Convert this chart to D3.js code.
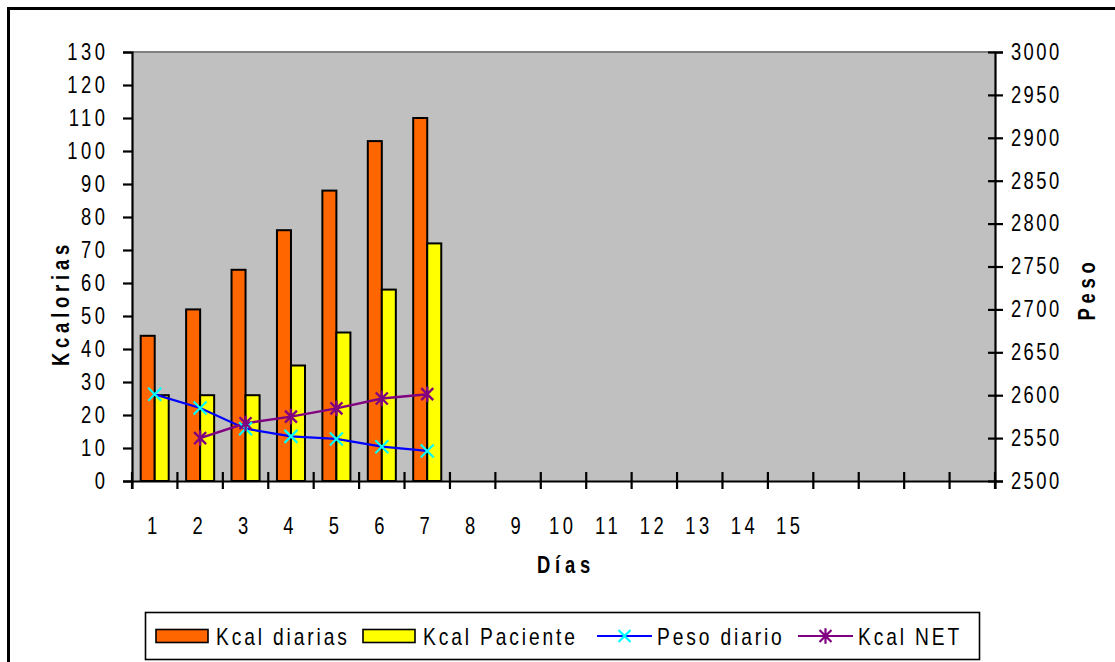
<!DOCTYPE html>
<html>
<head>
<meta charset="utf-8">
<script src="https://d3js.org/d3.v7.min.js"></script>
<style>
  body { margin: 0; background: #fff; }
  text { font-family: "Liberation Sans", Arial, sans-serif; fill: #000; }
</style>
</head>
<body>
<script>
// data
var dias = [1, 2, 3, 4, 5, 6, 7, 8, 9, 10, 11, 12, 13, 14, 15, 16, 17, 18, 19];
var diaLabels = ["1", "2", "3", "4", "5", "6", "7", "8", "9", "10", "11", "12", "13", "14", "15", "", "", "", ""];
var kcalDiarias = [44, 52, 64, 76, 88, 103, 110];
var kcalPaciente = [26, 26, 26, 35, 45, 58, 72];
var pesoDiario = [2601, 2585, 2561, 2552, 2549, 2540, 2535];
var kcalNet = [null, 13, 17.5, 19.5, 22, 25, 26.3];
var leftTicks = [0, 10, 20, 30, 40, 50, 60, 70, 80, 90, 100, 110, 120, 130];
var rightTicks = [2500, 2550, 2600, 2650, 2700, 2750, 2800, 2850, 2900, 2950, 3000];

var W = 1115, H = 662;
var plot = {left: 132, right: 995, top: 52, bottom: 481};

// no narrow font installed, so squeeze text horizontally
var SX = 0.8;
function narrow(sel) {
  sel.each(function() {
    var t = d3.select(this);
    var xx = +t.attr("x") || 0;
    t.attr("x", xx / SX);
    var tr = t.attr("transform") || "";
    t.attr("transform", tr + " scale(" + SX + ",1)");
  });
}

var svg = d3.select("body").append("svg")
    .attr("width", W)
    .attr("height", H);

// outer chart frame (right and bottom edges run off the picture)
svg.append("rect")
    .attr("x", 8.5).attr("y", 8.5)
    .attr("width", W + 20).attr("height", H + 20)
    .attr("fill", "#fff")
    .attr("stroke", "#000")
    .attr("stroke-width", 3);

// scales
var x = d3.scaleBand().domain(dias).range([plot.left, plot.right]).padding(0);
var xSub = d3.scaleBand().domain(["diarias", "paciente"])
    .range([0, x.bandwidth()]).paddingInner(0).paddingOuter(0.62);
var y = d3.scaleLinear().domain([0, 130]).range([plot.bottom, plot.top]);
var y2 = d3.scaleLinear().domain([2500, 3000]).range([plot.bottom, plot.top]);

// plot area
svg.append("rect")
    .attr("x", plot.left).attr("y", plot.top)
    .attr("width", plot.right - plot.left).attr("height", plot.bottom - plot.top)
    .attr("fill", "#c0c0c0");
svg.append("line")
    .attr("x1", plot.left).attr("x2", plot.right)
    .attr("y1", plot.top).attr("y2", plot.top)
    .attr("stroke", "#808080").attr("stroke-width", 2);

// bars
var barData = [];
kcalDiarias.forEach(function(v, i) { barData.push({dia: dias[i], serie: "diarias", v: v}); });
kcalPaciente.forEach(function(v, i) { barData.push({dia: dias[i], serie: "paciente", v: v}); });

svg.append("g").selectAll("rect")
    .data(barData)
    .enter().append("rect")
      .attr("x", function(d) { return x(d.dia) + xSub(d.serie); })
      .attr("y", function(d) { return y(d.v); })
      .attr("width", xSub.bandwidth())
      .attr("height", function(d) { return y(0) - y(d.v); })
      .attr("fill", function(d) { return d.serie == "diarias" ? "#ff6600" : "#ffff00"; })
      .attr("stroke", "#000")
      .attr("stroke-width", 2);

// axes
var fontSize = 23, ls = 4.4;

var leftAxis = svg.append("g")
    .attr("transform", "translate(" + plot.left + ",0)")
    .call(d3.axisLeft(y).tickValues(leftTicks).tickSize(9).tickPadding(18));
var rightAxis = svg.append("g")
    .attr("transform", "translate(" + plot.right + ",0)")
    .call(d3.axisRight(y2).tickValues(rightTicks).tickFormat(d3.format("d")).tickSize(8).tickPadding(8));
var bottomAxis = svg.append("g")
    .attr("transform", "translate(0," + plot.bottom + ")")
    .call(d3.axisBottom(x).tickFormat(function(d, i) { return diaLabels[i]; }).tickSize(8).tickPadding(29));

[leftAxis, rightAxis, bottomAxis].forEach(function(g) {
  g.select(".domain").attr("stroke", "#000").attr("stroke-width", 2.2);
  g.selectAll(".tick line").attr("stroke", "#000").attr("stroke-width", 2.2);
  g.selectAll(".tick text")
      .attr("font-size", fontSize)
      .attr("letter-spacing", ls + "px")
      .attr("font-family", null);
});
leftAxis.selectAll(".tick text").attr("dx", ls);
rightAxis.selectAll(".tick line").attr("x1", -7);
rightAxis.selectAll(".tick text").attr("x", 16).attr("letter-spacing", "3px");
bottomAxis.selectAll(".tick text").attr("dx", -1);
[leftAxis, rightAxis, bottomAxis].forEach(function(g) { narrow(g.selectAll(".tick text")); });

// category ticks sit on the boundaries between days and cross the axis
bottomAxis.selectAll(".tick line").remove();
svg.append("g").selectAll("line")
    .data(dias.concat(["end"]))
    .enter().append("line")
      .attr("x1", function(d) { return d == "end" ? plot.right : x(d); })
      .attr("x2", function(d) { return d == "end" ? plot.right : x(d); })
      .attr("y1", plot.bottom - 9).attr("y2", plot.bottom + 8)
      .attr("stroke", "#000").attr("stroke-width", 2.2);

// lines
var cx = function(d, i) { return x(dias[i]) + x.bandwidth() / 2; };

var pesoLine = d3.line()
    .x(cx)
    .y(function(d) { return y2(d); });
svg.append("path")
    .datum(pesoDiario)
    .attr("d", pesoLine)
    .attr("fill", "none")
    .attr("stroke", "#0000ff")
    .attr("stroke-width", 2.2);

var netLine = d3.line()
    .defined(function(d) { return d != null; })
    .x(cx)
    .y(function(d) { return y(d); });
svg.append("path")
    .datum(kcalNet)
    .attr("d", netLine)
    .attr("fill", "none")
    .attr("stroke", "#800080")
    .attr("stroke-width", 2.4);

function crossPath(s) {
  return "M" + (-s) + "," + (-s) + "L" + s + "," + s + "M" + (-s) + "," + s + "L" + s + "," + (-s);
}
function starPath(s) {
  return crossPath(s) + "M0," + (-s * 1.3) + "L0," + (s * 1.3);
}

svg.append("g").selectAll("path")
    .data(pesoDiario)
    .enter().append("path")
      .attr("transform", function(d, i) { return "translate(" + cx(d, i) + "," + y2(d) + ")"; })
      .attr("d", crossPath(6.5))
      .attr("stroke", "#00ffff")
      .attr("stroke-width", 2.2);

svg.append("g").selectAll("path")
    .data(kcalNet.map(function(v, i) { return {v: v, i: i}; }).filter(function(d) { return d.v != null; }))
    .enter().append("path")
      .attr("transform", function(d) { return "translate(" + cx(d, d.i) + "," + y(d.v) + ")"; })
      .attr("d", starPath(6))
      .attr("stroke", "#800080")
      .attr("stroke-width", 2.4);

// axis titles
var titles = svg.append("g")
    .attr("font-size", 23)
    .attr("font-weight", "bold")
    .attr("letter-spacing", "6px")
    .attr("text-anchor", "middle");

titles.append("text")
    .attr("transform", "translate(69,303) rotate(-90)")
    .text("Kcalorias");
titles.append("text")
    .attr("transform", "translate(566,573)")
    .text("Días");
titles.append("text")
    .attr("transform", "translate(1095,289) rotate(-90)")
    .text("Peso");
narrow(titles.selectAll("text"));

// legend
var legendItems = [
  {name: "Kcal diarias", type: "bar", fill: "#ff6600"},
  {name: "Kcal Paciente", type: "bar", fill: "#ffff00"},
  {name: "Peso diario", type: "line", stroke: "#0000ff", marker: "#00ffff", shape: "cross"},
  {name: "Kcal NET", type: "line", stroke: "#800080", marker: "#800080", shape: "star"}
];
var legendX = [156, 363, 597, 798];

var legend = svg.append("g");
legend.append("rect")
    .attr("x", 145.5).attr("y", 612.5)
    .attr("width", 834).attr("height", 47)
    .attr("fill", "#fff")
    .attr("stroke", "#000")
    .attr("stroke-width", 1.6);

var li = legend.selectAll("g.item")
    .data(legendItems)
    .enter().append("g")
      .attr("class", "item")
      .attr("transform", function(d, i) { return "translate(" + legendX[i] + ",636)"; });

li.filter(function(d) { return d.type == "bar"; })
  .append("rect")
    .attr("x", 0).attr("y", -6.5)
    .attr("width", 52).attr("height", 13)
    .attr("fill", function(d) { return d.fill; })
    .attr("stroke", "#000")
    .attr("stroke-width", 1.6);

var lineItems = li.filter(function(d) { return d.type == "line"; });
lineItems.append("line")
    .attr("x1", 0).attr("x2", 55)
    .attr("y1", 0).attr("y2", 0)
    .attr("stroke", function(d) { return d.stroke; })
    .attr("stroke-width", 2.2);
lineItems.append("path")
    .attr("transform", "translate(27.5,0)")
    .attr("d", function(d) { return d.shape == "cross" ? crossPath(6) : starPath(6); })
    .attr("stroke", function(d) { return d.marker; })
    .attr("stroke-width", 2.2);

li.append("text")
    .attr("x", 60)
    .attr("y", 9)
    .attr("font-size", 24)
    .attr("letter-spacing", "3.6px")
    .text(function(d) { return d.name; });
narrow(li.selectAll("text"));
</script>
</body>
</html>
